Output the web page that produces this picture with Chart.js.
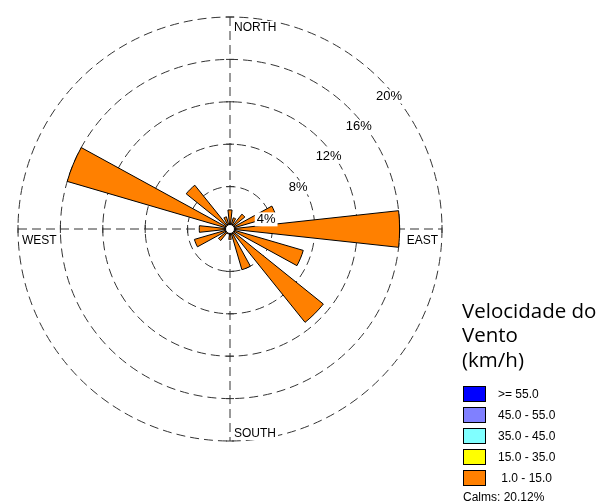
<!DOCTYPE html>
<html>
<head>
<meta charset="utf-8">
<title>Rosa dos ventos</title>
<script src="https://cdn.jsdelivr.net/npm/chart.js@4.4.1/dist/chart.umd.min.js"></script>
<style>
  html, body { margin: 0; padding: 0; background: #fff; }
  #wrap { position: relative; width: 603px; height: 502px; overflow: hidden; }
  #rose { position: absolute; left: 0; top: 0; }
  #legendTitle {
    position: absolute; left: 462px; top: 298px;
    font-family: "Open Sans", sans-serif; font-size: 20.5px; line-height: 24.3px;
    color: #000; white-space: nowrap;
  }
  .legRow { position: absolute; left: 463px; height: 16px; }
  .legBox { position: absolute; left: 0; top: 0; width: 23px; height: 16px; box-sizing: border-box; border: 1px solid #000; }
  .legText, #calms {
    position: absolute; font-family: "Liberation Sans", Arial, sans-serif; font-size: 12px;
    line-height: 14px; color: #000; white-space: pre;
  }
  .legText { left: 35px; top: 1px; }
  #calms { left: 463px; top: 490px; }
</style>
</head>
<body>
<div id="wrap">
  <canvas id="rose" width="603" height="502"></canvas>
  <div id="legendTitle"></div>
  <div id="legendRows"></div>
  <div id="calms"></div>
</div>
<script>
// frequency (%) per direction, clockwise from north
const directions = ["N", "NNE", "NE", "ENE", "E", "ESE", "SE", "SSE", "S", "SSW", "SW", "WSW", "W", "WNW", "NW", "NNW"];
const freq = [1.8, 1.1, 1.8, 4.5, 16.0, 7.2, 11.3, 4.0, 1.0, 0.5, 1.4, 3.5, 2.9, 16.0, 5.3, 1.2];
const ringTicks = [4, 8, 12, 16, 20];
const compassLabels = ["NORTH", "EAST", "SOUTH", "WEST"];
const legendTitle = ["Velocidade do", "Vento", "(km/h)"];
const speedClasses = [">= 55.0", "45.0 - 55.0", "35.0 - 45.0", "15.0 - 35.0", " 1.0 - 15.0"];
const classColors = ["#0000ff", "#8080ff", "#80ffff", "#ffff00", "#ff8000"];
const calms = 20.12;

const BAR_DEG = 12.4;
const GAP_DEG = 360 / directions.length - BAR_DEG;

// every direction = one bar wedge + one empty gap wedge
const wedgeData = [];
const wedgeLabels = [];
freq.forEach((v, i) => {
  wedgeData.push(v, 0);
  wedgeLabels.push(directions[i], "");
});

function textBox(ctx, txt, x, y, align, baseline) {
  ctx.textAlign = align;
  ctx.textBaseline = baseline;
  const w = ctx.measureText(txt).width;
  const h = 12;
  let left = align === "center" ? x - w / 2 : align === "right" ? x - w : x;
  let top = baseline === "middle" ? y - h / 2 : baseline === "top" ? y : y - h + 2;
  ctx.fillStyle = "#fff";
  ctx.fillRect(left - 2, top - 1, w + 4, h + 2);
  ctx.fillStyle = "#000";
  ctx.fillText(txt, x, y);
}

const roseDecor = {
  id: "roseDecor",
  beforeDatasetsDraw(chart) {
    const r = chart.scales.r;
    const ctx = chart.ctx;
    const cx = r.xCenter, cy = r.yCenter, R = r.drawingArea;
    ctx.save();
    ctx.strokeStyle = "#333";
    ctx.lineWidth = 1;
    ctx.setLineDash([9, 5]);
    ctx.beginPath();
    ctx.moveTo(cx - R, cy); ctx.lineTo(cx + R, cy);
    ctx.moveTo(cx, cy - R); ctx.lineTo(cx, cy + R);
    ctx.stroke();
    // little ticks where rings cross the axes
    ctx.setLineDash([]);
    ctx.beginPath();
    ringTicks.forEach(v => {
      const d = r.getDistanceFromCenterForValue(v);
      ctx.moveTo(cx + d, cy - 4); ctx.lineTo(cx + d, cy + 4);
      ctx.moveTo(cx - d, cy - 4); ctx.lineTo(cx - d, cy + 4);
      ctx.moveTo(cx - 4, cy + d); ctx.lineTo(cx + 4, cy + d);
      ctx.moveTo(cx - 4, cy - d); ctx.lineTo(cx + 4, cy - d);
    });
    ctx.stroke();
    ctx.restore();
  },
  afterDatasetsDraw(chart) {
    const r = chart.scales.r;
    const ctx = chart.ctx;
    const cx = r.xCenter, cy = r.yCenter, R = r.drawingArea;
    ctx.save();
    // calm circle
    ctx.beginPath();
    ctx.arc(cx, cy, 4.5, 0, Math.PI * 2);
    ctx.fillStyle = "#fff";
    ctx.fill();
    ctx.strokeStyle = "#000";
    ctx.lineWidth = 1;
    ctx.stroke();

    // ring labels along a line parallel to the NE diagonal
    ctx.font = "13px 'Liberation Sans', Arial, sans-serif";
    const off = 26.5;
    ringTicks.forEach(v => {
      const rl = r.getDistanceFromCenterForValue(v) - 5;
      const w = (-off + Math.sqrt(2 * rl * rl - off * off)) / 2;
      const u = w + off;
      textBox(ctx, v + "%", cx + u, cy - w, "center", "middle");
    });

    ctx.font = "12px 'Liberation Sans', Arial, sans-serif";
    textBox(ctx, compassLabels[0], cx + 4, cy - R + 5, "left", "top");
    textBox(ctx, compassLabels[1], cx + R - 4, cy + 6, "right", "top");
    textBox(ctx, compassLabels[2], cx + 4, cy + R - 4, "left", "alphabetic");
    textBox(ctx, compassLabels[3], cx - R + 4, cy + 6, "left", "top");
    ctx.restore();
  }
};

new Chart(document.getElementById("rose"), {
  type: "polarArea",
  data: {
    labels: wedgeLabels,
    datasets: [{
      label: "1.0 - 15.0",
      data: wedgeData,
      backgroundColor: c => (c.dataIndex % 2 ? "rgba(0,0,0,0)" : classColors[4]),
      borderColor: "#000",
      borderWidth: c => (c.dataIndex % 2 ? 0 : 1),
      angle: c => (c.dataIndex % 2 ? GAP_DEG : BAR_DEG)
    }]
  },
  options: {
    responsive: false,
    devicePixelRatio: 1,
    animation: false,
    layout: { padding: { left: 18, top: 17, right: 161, bottom: 61 } },
    plugins: { legend: { display: false }, tooltip: { enabled: false } },
    scales: {
      r: {
        min: 0,
        max: 20,
        startAngle: -BAR_DEG / 2,
        ticks: { display: false, stepSize: 4 },
        grid: { circular: true, color: "#333", lineWidth: 1 },
        border: { dash: [9, 5] },
        angleLines: { display: false },
        pointLabels: { display: false }
      }
    }
  },
  plugins: [roseDecor]
});

// legend
document.getElementById("legendTitle").innerHTML = legendTitle.join("<br>");
const rows = document.getElementById("legendRows");
speedClasses.forEach((lbl, i) => {
  const row = document.createElement("div");
  row.className = "legRow";
  row.style.top = (385.5 + i * 21.1) + "px";
  row.innerHTML = '<div class="legBox" style="background:' + classColors[i] + '"></div><div class="legText"></div>';
  row.querySelector(".legText").textContent = lbl;
  rows.appendChild(row);
});
document.getElementById("calms").textContent = "Calms: " + calms.toFixed(2) + "%";
</script>
</body>
</html>
